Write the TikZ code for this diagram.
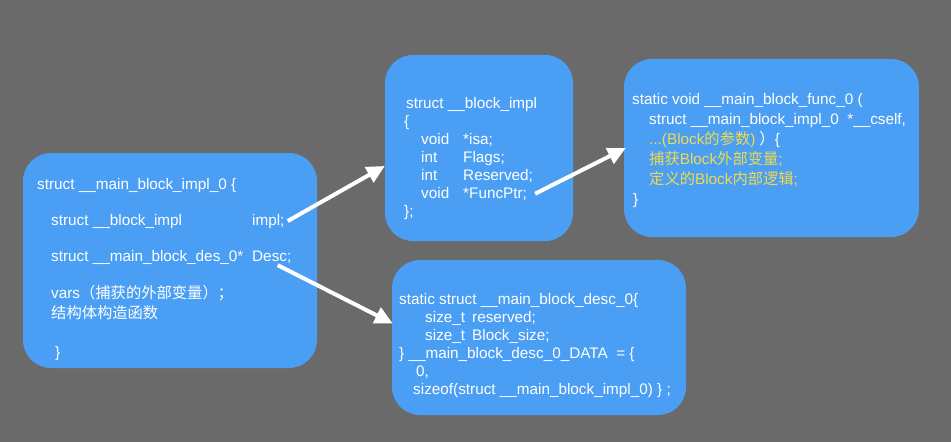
\documentclass[tikz,border=0pt]{standalone}
\usepackage{fontspec}
\setmainfont{Liberation Sans}
\newfontfamily\cjk{Noto Sans CJK SC}
\usepackage{xcolor}
\usepackage{tikz}
\usetikzlibrary{arrows.meta}

\definecolor{bggray}{HTML}{6A6A6A}
\definecolor{blockblue}{HTML}{4A9FF5}
\definecolor{capyellow}{HTML}{F2D94A}

\tikzset{
  block/.style={fill=blockblue, draw=none, rounded corners=28pt, inner sep=0pt},
  code/.style={anchor=base west, inner sep=0pt, text=white,
               font=\fontsize{15.3}{18}\selectfont},
  captured/.style={code, text=capyellow},
  pointer/.style={draw=white, line width=4pt, -{Triangle[length=18pt,width=17pt]}},
}

\begin{document}
\begin{tikzpicture}[x=1pt,y=-1pt]
\fill[bggray] (0,0) rectangle (951,442);
\useasboundingbox (0,0) rectangle (951,442);

% ===== the four blocks =====
\node[block, minimum width=294pt, minimum height=215pt] (aBox) at (170,260.5) {};
\node[block, minimum width=188pt, minimum height=186pt] (bBox) at (479,148) {};
\node[block, minimum width=295pt, minimum height=178pt] (cBox) at (771.5,148) {};
\node[block, minimum width=294pt, minimum height=155pt] (dBox) at (539,337.5) {};

% ===== __main_block_impl_0 =====
\node[code] (aHead) at (37,189) {struct \_\_main\_block\_impl\_0 \{};
\node[code] (aImpl) at (51,225) {struct \_\_block\_impl};
\node[code] (aImplName) at (252,225) {impl;};
\node[code] (aDesc) at (51,261) {struct \_\_main\_block\_des\_0*};
\node[code] (aDescName) at (252,261) {Desc;};
\node[code] (aVars) at (51,298) {vars{\cjk （捕获的外部变量）；}};
\node[code] (aCtor) at (51,318) {{\cjk 结构体构造函数}};
\node[code] (aClose) at (55,357) {\}};

% ===== __block_impl =====
\node[code] (bHead) at (406,108) {struct \_\_block\_impl};
\node[code] (bOpen) at (404,126) {\{};
\foreach \ty/\nm [count=\i] in {void/{*isa;}, int/{Flags;}, int/{Reserved;}, void/{*FuncPtr;}} {
  \node[code] (bType\i) at (421,126+18*\i) {\ty};
  \node[code] (bField\i) at (463,126+18*\i) {\nm};
}
\node[code] (bClose) at (404,216) {\};};

% ===== __main_block_func_0 =====
\node[code] (cHead) at (632,104) {static void \_\_main\_block\_func\_0 (};
\node[code] (cArg) at (649,124) {struct \_\_main\_block\_impl\_0~~*\_\_cself,};
\node[code] (cParams) at (649,144)
  {{\color{capyellow}...(Block{\cjk 的参数})}\hspace{4pt}{\cjk ）}\{};
\node[captured] (cCapture) at (649,164) {{\cjk 捕获}Block{\cjk 外部变量};};
\node[captured] (cLogic) at (649,184) {{\cjk 定义的}Block{\cjk 内部逻辑};};
\node[code] (cClose) at (633,204) {\}};

% ===== __main_block_desc_0 =====
\node[code] (dHead) at (399,304) {static struct \_\_main\_block\_desc\_0\{};
\node[code] (dType1) at (425,322) {size\_t};
\node[code] (dField1) at (472,322) {reserved;};
\node[code] (dType2) at (425,340) {size\_t};
\node[code] (dField2) at (472,340) {Block\_size;};
\node[code] (dData) at (399,358) {\} \_\_main\_block\_desc\_0\_DATA~~= \{};
\node[code] (dZero) at (416,376) {0,};
\node[code] (dSize) at (413,394) {sizeof(struct \_\_main\_block\_impl\_0) \} ;};

% ===== pointers =====
\draw[pointer] ([xshift=3pt]aImplName.east) -- ([yshift=-18pt]bBox.west);
\draw[pointer] ([xshift=6pt,yshift=-2pt]aDescName.south) -- ([xshift=1pt,yshift=14pt]dBox.west);
\draw[pointer] ([xshift=8pt]bField4.east) -- ([xshift=2pt]cBox.west);

\end{tikzpicture}
\end{document}
